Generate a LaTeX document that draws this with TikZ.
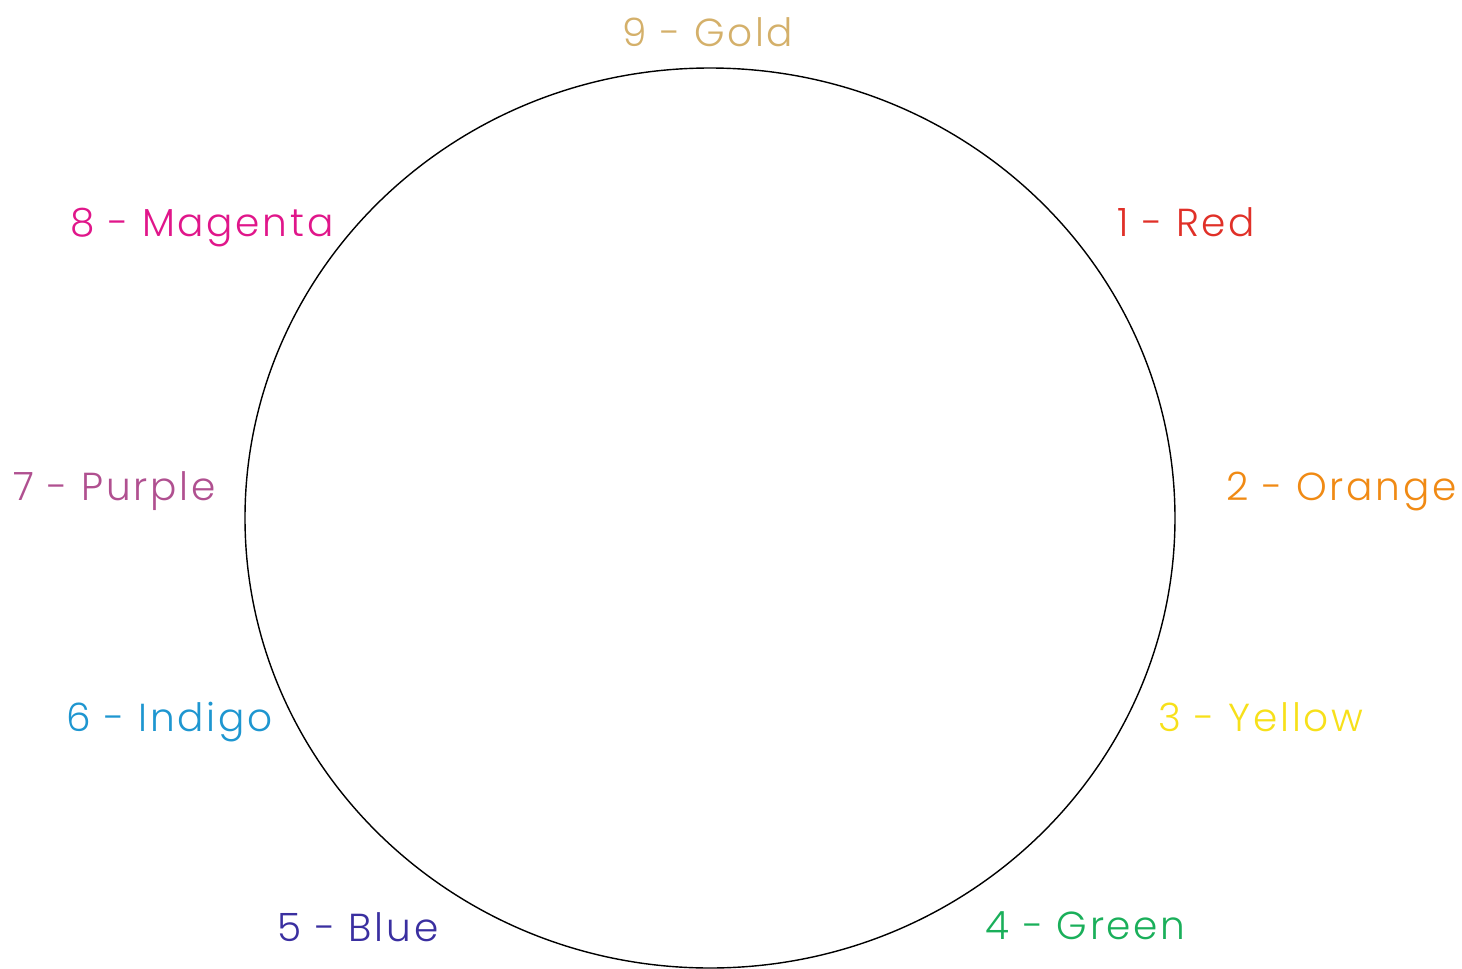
\documentclass[tikz,border=0pt]{standalone}
\usepackage{fontspec}
\setmainfont{Poppins Light}[LetterSpace=7]
\definecolor{cgold}{HTML}{D4B06A}
\definecolor{cred}{HTML}{E03028}
\definecolor{corange}{HTML}{F08A14}
\definecolor{cyellow}{HTML}{F7E01A}
\definecolor{cgreen}{HTML}{1AAF5A}
\definecolor{cblue}{HTML}{3A2FA0}
\definecolor{cindigo}{HTML}{1E96D0}
\definecolor{cpurple}{HTML}{B05090}
\definecolor{cmagenta}{HTML}{E0168A}
\begin{document}
\begin{tikzpicture}[x=0.01cm,y=-0.01cm,
  lbl/.style={anchor=base west,inner sep=0pt,font=\fontsize{11.1}{14}\selectfont}]
\useasboundingbox (0,0) rectangle (1462,969);
\coordinate (c) at (710,518);
\draw[line width=0.4pt] (c) ellipse [x radius=465, y radius=450];
\node[lbl,text=cgold] (n9) at (622,46) {9 - Gold};
\node[lbl,text=cred] (n1) at (1117,236) {1 - Red};
\node[lbl,text=corange] (n2) at (1226,500) {2 - Orange};
\node[lbl,text=cyellow] (n3) at (1158,731) {3 - Yellow};
\node[lbl,text=cgreen] (n4) at (985,939) {4 - Green};
\node[lbl,text=cblue] (n5) at (277,941) {5 - Blue};
\node[lbl,text=cindigo] (n6) at (66,731) {6 - Indigo};
\node[lbl,text=cpurple] (n7) at (13,500) {7 - Purple};
\node[lbl,text=cmagenta] (n8) at (70,236) {8 - Magenta};
\end{tikzpicture}
\end{document}
